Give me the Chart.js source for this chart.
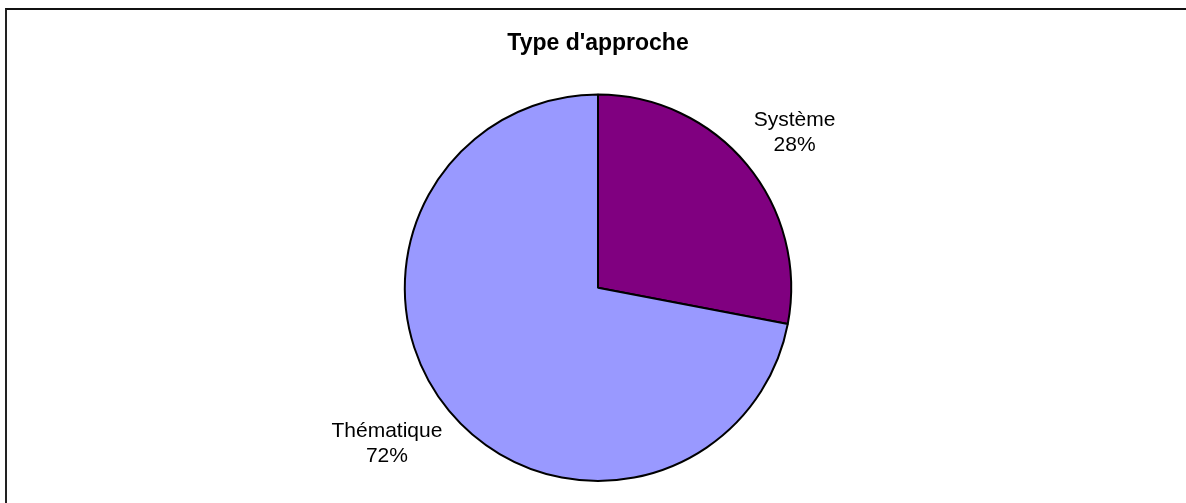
<!DOCTYPE html>
<html>
<head>
<meta charset="utf-8">
<script src="https://cdn.jsdelivr.net/npm/chart.js@4/dist/chart.umd.min.js"></script>
<style>
  body { margin: 0; background: #fff; }
  #wrap { position: relative; width: 1186px; height: 503px; overflow: hidden; }
  #frame { position: absolute; left: 5px; top: 8px; right: -10px; bottom: -10px;
           border-top: 2px solid #111; border-left: 2px solid #222; }
  canvas { position: absolute; left: 0; top: 0; }
</style>
</head>
<body>
<div id="wrap">
  <div id="frame"></div>
  <canvas id="pieChart" width="1186" height="503"></canvas>
</div>
<script>
  // Data for approach type
  const categories = ['Système', 'Thématique'];
  const shares = [28, 72];
  const sliceColors = ['#800080', '#9999FF'];

  // draws "Name\nNN%" labels outside each slice
  const outsideLabels = {
    id: 'outsideLabels',
    afterDatasetsDraw(chart, args, opts) {
      const ctx = chart.ctx;
      const meta = chart.getDatasetMeta(0);
      ctx.save();
      ctx.font = '21px "Liberation Sans", Arial, sans-serif';
      ctx.fillStyle = '#000';
      ctx.textAlign = 'center';
      ctx.textBaseline = 'middle';
      meta.data.forEach((arc, i) => {
        const mid = (arc.startAngle + arc.endAngle) / 2 + opts.turn[i] * Math.PI / 180;
        const dist = arc.outerRadius + opts.gap[i];
        const x = arc.x + Math.cos(mid) * dist;
        const y = arc.y + Math.sin(mid) * dist;
        ctx.fillText(categories[i], x, y - 12.5);
        ctx.fillText(shares[i] + '%', x, y + 12.5);
      });
      ctx.restore();
    }
  };

  const pieConfig = {
    type: 'pie',
    data: {
      labels: categories,
      datasets: [{
        data: shares,
        backgroundColor: sliceColors,
        borderColor: '#000',
        borderWidth: 2
      }]
    },
    options: {
      responsive: false,
      animation: false,
      layout: { padding: { top: 0, bottom: 21, left: 10, right: 0 } },
      plugins: {
        legend: { display: false },
        tooltip: { enabled: false },
        title: {
          display: true,
          text: "Type d'approche",
          color: '#000',
          font: { family: '"Liberation Sans", Arial, sans-serif', size: 23, weight: 'bold' },
          padding: { top: 30, bottom: 36 }
        },
        outsideLabels: { gap: [57, 69], turn: [1.4, 3.2] }
      }
    },
    plugins: [outsideLabels]
  };

  const pieChart = new Chart(document.getElementById('pieChart'), pieConfig);
</script>
</body>
</html>
